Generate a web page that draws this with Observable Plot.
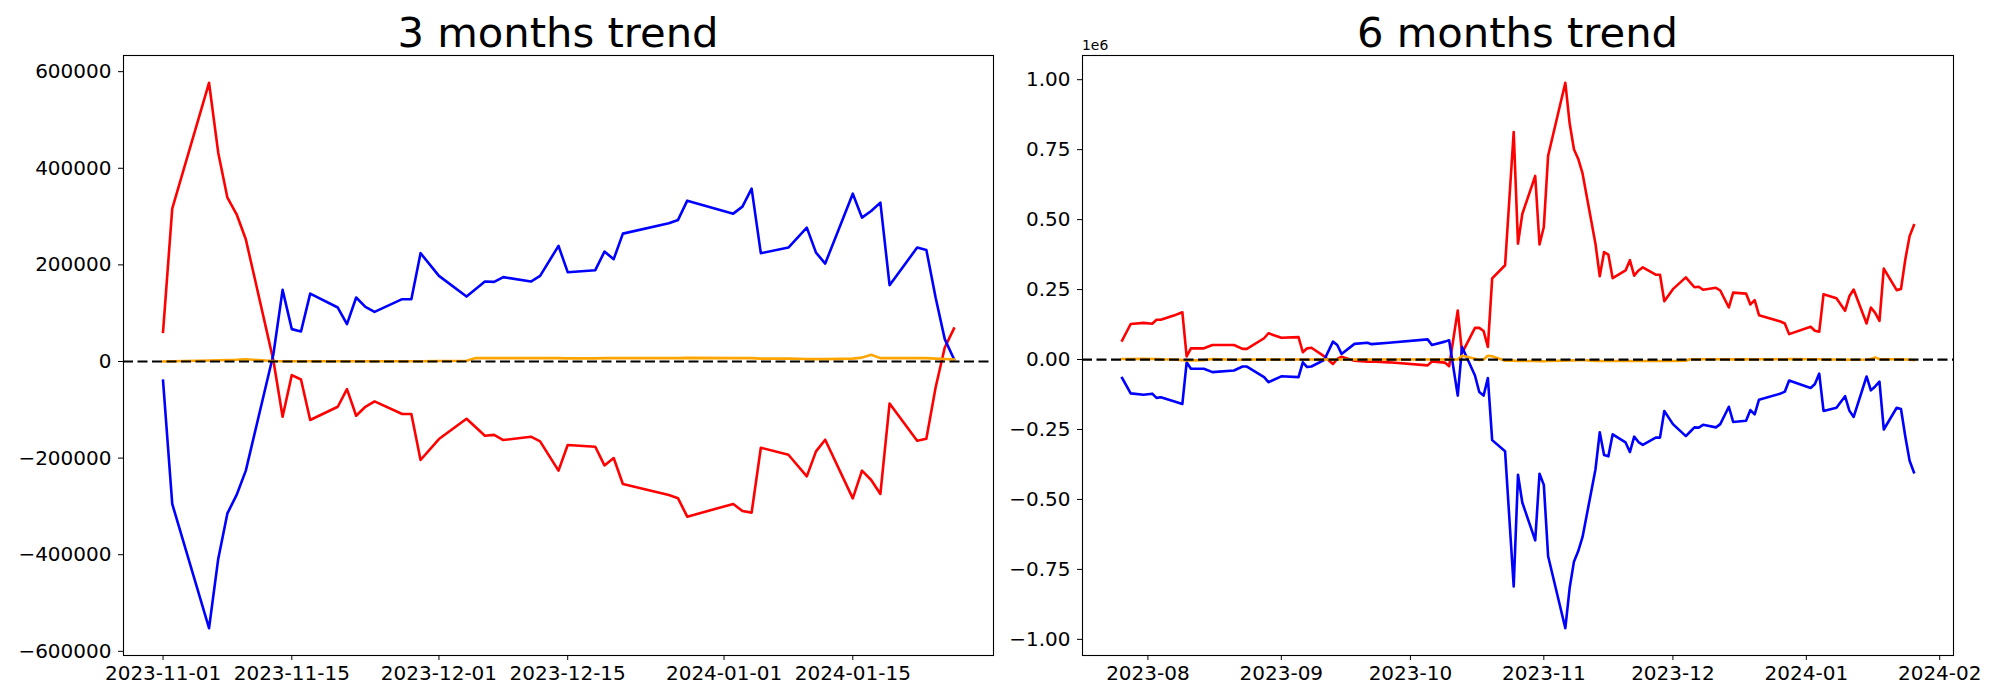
<!DOCTYPE html>
<html><head><meta charset="utf-8">
<script src="https://cdn.jsdelivr.net/npm/d3@7"></script>
<script src="https://cdn.jsdelivr.net/npm/@observablehq/plot@0.6"></script>
<style>
body{margin:0;background:#fff;}
#fig{position:relative;width:2000px;height:700px;font-family:"DejaVu Sans",sans-serif;background:#fff;}
.panel{position:absolute;top:0;}
</style></head><body><div id="fig"></div>
<script>
// ---------- 3 months trend ----------
const dates3 = ["2023-11-01","2023-11-02","2023-11-06","2023-11-07","2023-11-08","2023-11-09","2023-11-10","2023-11-13","2023-11-14","2023-11-15","2023-11-16","2023-11-17","2023-11-20","2023-11-21","2023-11-22","2023-11-23","2023-11-24","2023-11-27","2023-11-28","2023-11-29","2023-12-01","2023-12-04","2023-12-05","2023-12-06","2023-12-07","2023-12-08","2023-12-11","2023-12-12","2023-12-14","2023-12-15","2023-12-18","2023-12-19","2023-12-20","2023-12-21","2023-12-26","2023-12-27","2023-12-28","2024-01-02","2024-01-03","2024-01-04","2024-01-05","2024-01-08","2024-01-10","2024-01-11","2024-01-12","2024-01-15","2024-01-16","2024-01-17","2024-01-18","2024-01-19","2024-01-22","2024-01-23","2024-01-24","2024-01-25","2024-01-26"];
const red3 = [61400,316400,577000,432300,339200,304800,253100,2000,-114400,-28100,-37200,-121200,-93700,-57100,-112300,-93700,-82700,-108800,-108800,-203900,-160500,-118500,-136000,-153700,-152000,-162600,-155700,-165300,-226000,-172900,-176400,-215100,-199800,-253600,-276300,-283300,-321200,-294900,-309400,-312900,-178500,-193000,-237800,-186100,-161900,-283300,-226000,-245300,-274300,-86900,-164000,-159900,-54400,29000,68300];
const blue3 = [-39900,-294900,-552200,-408700,-314300,-276300,-226000,15000,148300,67000,62100,140600,111700,77300,132400,113100,102800,129000,129000,224200,177200,134400,150000,165500,164800,174600,165500,177200,239300,184900,189000,227500,211800,264700,286200,293100,333000,306100,320600,357800,224200,235800,277100,225400,202700,347400,297800,311700,328900,158000,235800,231000,133000,46300,5000];
const orange3 = [0,500,2000,2500,3000,3500,4500,1000,500,500,500,500,500,500,500,500,500,500,500,500,1000,1500,7000,7000,7000,7000,7000,7000,7000,6500,6500,7000,7000,7000,7000,7000,7500,7000,7000,7000,6000,6000,5000,5000,5000,6000,8000,13800,7000,7000,7000,7000,6000,5000,4000];
const xTicks3 = ["2023-11-01","2023-11-15","2023-12-01","2023-12-15","2024-01-01","2024-01-15"];
const yTicks3 = [-600000,-400000,-200000,0,200000,400000,600000];

// ---------- 6 months trend ----------
const dates6 = ["2023-07-26","2023-07-28","2023-07-31","2023-08-02","2023-08-03","2023-08-04","2023-08-07","2023-08-09","2023-08-10","2023-08-11","2023-08-14","2023-08-16","2023-08-21","2023-08-23","2023-08-24","2023-08-28","2023-08-29","2023-09-01","2023-09-05","2023-09-06","2023-09-07","2023-09-08","2023-09-11","2023-09-13","2023-09-14","2023-09-15","2023-09-18","2023-09-21","2023-09-22","2023-09-26","2023-10-05","2023-10-06","2023-10-09","2023-10-10","2023-10-12","2023-10-13","2023-10-16","2023-10-17","2023-10-18","2023-10-19","2023-10-20","2023-10-23","2023-10-25","2023-10-26","2023-10-27","2023-10-30","2023-10-31",
"2023-11-01","2023-11-02","2023-11-06","2023-11-07","2023-11-08","2023-11-09","2023-11-10","2023-11-13","2023-11-14","2023-11-15","2023-11-16","2023-11-17","2023-11-20","2023-11-21","2023-11-22","2023-11-23","2023-11-24","2023-11-27","2023-11-28","2023-11-29","2023-12-01","2023-12-04","2023-12-05","2023-12-06","2023-12-07","2023-12-08","2023-12-11","2023-12-12","2023-12-14","2023-12-15","2023-12-18","2023-12-19","2023-12-20","2023-12-21","2023-12-26","2023-12-27","2023-12-28","2024-01-02","2024-01-03","2024-01-04","2024-01-05","2024-01-08","2024-01-10","2024-01-11","2024-01-12","2024-01-15","2024-01-16","2024-01-17","2024-01-18","2024-01-19","2024-01-22","2024-01-23","2024-01-24","2024-01-25","2024-01-26"];
const red6 = [68000,127000,131000,128000,142000,142000,157000,169000,11000,40000,40000,52000,52000,38000,38000,76000,94000,78000,80000,26000,40000,42000,11000,-16000,2000,10000,-4000,-8000,-7000,-10000,-21000,-7000,-11000,-24000,175000,23000,113000,113000,102000,45000,290000,337000,813000,414000,520000,656000,411000,
473400,728400,989000,844300,751200,716800,665100,414000,297600,383900,374800,290800,318300,354900,299700,318300,329300,303200,303200,208100,251500,293500,276000,258300,260000,249400,256300,246700,186000,239100,235600,196900,212200,158400,135700,128700,90800,117100,102600,99100,233500,219000,174200,225900,250100,128700,186000,166700,137700,325100,248000,252100,357600,441000,480300];
const blue6 = [-66000,-121000,-126000,-122000,-137000,-135000,-149000,-159000,-10000,-33000,-33000,-45000,-39000,-25000,-25000,-63000,-81000,-60000,-63000,-10000,-27000,-25000,-1000,64000,52000,20000,56000,60000,55000,60000,72000,52000,64000,69000,-129000,45000,-57000,-116000,-129000,-66000,-288000,-328000,-811000,-412000,-511000,-646000,-408000,
-447900,-702900,-960200,-816700,-722300,-684300,-634000,-393000,-259700,-341000,-345900,-267400,-296300,-330700,-275600,-294900,-305200,-279000,-279000,-183800,-230800,-273600,-258000,-242500,-243200,-233400,-242500,-230800,-168700,-223100,-219000,-180500,-196200,-143300,-121800,-114900,-75000,-101900,-87400,-50200,-183800,-172200,-130900,-182600,-205300,-60600,-110200,-96300,-79100,-250000,-172200,-177000,-275000,-361700,-403000];
const orange6 = [2000,2000,3000,2000,2000,1000,0,-2000,-3000,-3000,-2000,2000,-1000,-1000,0,0,0,0,0,0,0,0,0,0,0,0,0,0,0,0,0,0,0,0,0,13600,3000,-2000,0,13600,12000,-4000,-4000,-5000,-5000,-5500,-6000,
-6000,-5500,-4000,-3500,-3000,-2500,-1500,-5000,-5500,-5500,-5500,-5500,-5500,-5500,-5500,-5500,-5500,-5500,-5500,-5500,-5000,-4500,1000,1000,1000,1000,1000,1000,1000,500,500,1000,1000,1000,1000,1000,1500,1000,1000,1000,0,0,-1000,-1000,-1000,0,2000,7800,1000,1000,1000,1000,0,-1000,-2000];
const xTicks6 = ["2023-08-01","2023-09-01","2023-10-01","2023-11-01","2023-12-01","2024-01-01","2024-02-01"];
const yTicks6 = [-1000000,-750000,-500000,-250000,0,250000,500000,750000,1000000];

const minus = s => s.replace("-", "\u2212");

function toRows(dates, vals){ return dates.map((d,i)=>({date:new Date(d), value: vals[i]})); }
function padded(lo, hi){ const p=(hi-lo)*0.05; return [lo-p, hi+p]; }

function panel(cfg){
  const R = toRows(cfg.dates, cfg.red), B = toRows(cfg.dates, cfg.blue), O = toRows(cfg.dates, cfg.orange);
  const all = [...cfg.red, ...cfg.blue, ...cfg.orange];
  const t = cfg.dates.map(d=>+new Date(d));
  const xd = padded(d3.min(t), d3.max(t)).map(v=>new Date(v));
  const yd = padded(d3.min(all), d3.max(all));
  const lw = 2.6;
  const svg = Plot.plot({
    width: 1000, height: 700,
    marginLeft: cfg.ml, marginRight: cfg.mr, marginTop: 55, marginBottom: 45,
    style: {fontFamily: "DejaVu Sans", fontSize: "20px", color: "black", background: "white", overflow: "visible"},
    x: {type: "utc", domain: xd, ticks: cfg.xTicks.map(d=>new Date(d)), tickFormat: cfg.xFmt, label: null, tickSize: 5, tickPadding: 5},
    y: {domain: yd, ticks: cfg.yTicks, tickFormat: cfg.yFmt, label: null, tickSize: 5, tickPadding: 7},
    marks: [
      Plot.lineY(R, {x: "date", y: "value", stroke: "red", strokeWidth: lw, strokeLinecap: "square"}),
      Plot.lineY(B, {x: "date", y: "value", stroke: "blue", strokeWidth: lw, strokeLinecap: "square"}),
      Plot.lineY(O, {x: "date", y: "value", stroke: "orange", strokeWidth: lw, strokeLinecap: "square"}),
      Plot.ruleY([0], {stroke: "black", strokeWidth: 2.2, strokeDasharray: "10,4.5"}),
      Plot.frame({stroke: "black", strokeWidth: 1.1})
    ]
  });
  const s = d3.select(svg);
  s.append("text").attr("x", cfg.ml + (1000-cfg.ml-cfg.mr)/2).attr("y", 47)
    .attr("text-anchor","middle").attr("font-size","41.7px").attr("font-family","DejaVu Sans").attr("fill","black")
    .text(cfg.title);
  if (cfg.offsetText) {
    s.append("text").attr("x", cfg.ml).attr("y", 50).attr("text-anchor","start")
      .attr("font-size","13.9px").attr("font-family","DejaVu Sans").attr("fill","black").text(cfg.offsetText);
  }
  const wrap = document.createElement("div");
  wrap.className = "panel"; wrap.style.left = cfg.left + "px";
  wrap.appendChild(svg);
  document.getElementById("fig").appendChild(wrap);
}

panel({title: "3 months trend", dates: dates3, red: red3, blue: blue3, orange: orange3,
  left: 0, ml: 123, mr: 7, xTicks: xTicks3, yTicks: yTicks3,
  xFmt: d3.utcFormat("%Y-%m-%d"), yFmt: d => minus(String(d))});
panel({title: "6 months trend", dates: dates6, red: red6, blue: blue6, orange: orange6,
  left: 1000, ml: 82, mr: 47, xTicks: xTicks6, yTicks: yTicks6,
  xFmt: d3.utcFormat("%Y-%m"), yFmt: d => minus((d/1e6).toFixed(2)), offsetText: "1e6"});
</script></body></html>
